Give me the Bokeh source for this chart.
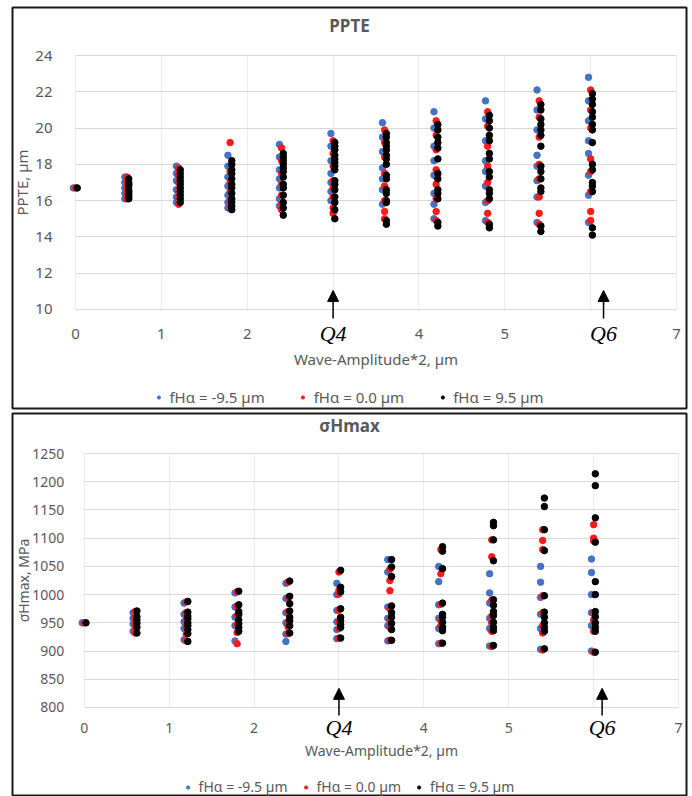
from bokeh.plotting import figure
from bokeh.models import (ColumnDataSource, Range1d, FixedTicker, Legend, LegendItem,
                          Label, Arrow, NormalHead)
from bokeh.layouts import column
from bokeh.transform import dodge
from bokeh.embed import file_html
from bokeh.resources import INLINE

FONT = "Noto Sans"
GRAY = "#595959"
C_BLUE = "#4472C4"
C_RED = "#FF1A1A"
C_BLACK = "#000000"

amp = [0.0, 0.6, 1.2, 1.8, 2.4, 3.0, 3.6, 4.2, 4.8, 5.4, 6.0]
x_ticks = [0, 1, 2, 3, 4, 5, 6, 7]
series_names = ["fH\u03b1 = -9.5 \u00b5m", "fH\u03b1 = 0.0 \u00b5m", "fH\u03b1 = 9.5 \u00b5m"]

# PPTE, um  (one list per amplitude column)
ppte_blue = [
    [16.7],
    [17.3, 17.0, 16.7, 16.4, 16.1],
    [17.9, 17.5, 17.1, 16.6, 16.2, 15.9],
    [18.5, 17.9, 17.3, 16.8, 16.3, 15.9, 15.6],
    [19.1, 18.4, 17.7, 17.2, 16.7, 16.1, 15.7],
    [19.7, 19.0, 18.2, 17.5, 17.0, 16.5, 16.0],
    [20.3, 19.5, 18.7, 17.8, 17.2, 16.6, 15.8],
    [20.9, 20.0, 19.0, 18.2, 17.4, 16.4, 15.8, 15.0],
    [21.5, 20.5, 19.3, 18.2, 17.6, 16.8, 15.9, 14.9],
    [22.1, 21.0, 19.9, 18.5, 17.9, 17.1, 16.2, 14.8],
    [22.8, 21.5, 20.4, 19.3, 18.6, 17.4, 16.3, 14.8],
]
ppte_red = [
    [16.7],
    [17.3, 17.1, 16.9, 16.7, 16.5, 16.3, 16.1],
    [17.8, 17.4, 17.0, 16.5, 16.1, 15.8],
    [19.2, 17.6, 17.0, 16.5, 16.0, 15.6],
    [18.9, 18.2, 17.5, 16.9, 16.3, 15.8, 15.5],
    [19.3, 18.6, 17.9, 17.1, 16.7, 16.2, 15.6, 15.3],
    [19.9, 19.2, 18.4, 17.5, 16.8, 16.0, 15.4, 15.0],
    [20.4, 19.6, 18.8, 17.7, 16.9, 16.1, 15.4, 14.9],
    [20.9, 20.1, 19.0, 17.9, 17.0, 16.0, 15.3, 14.8],
    [21.5, 20.6, 19.5, 18.0, 17.2, 16.2, 15.3, 14.7],
    [22.1, 21.0, 20.0, 18.3, 17.6, 16.5, 15.4, 14.9],
]
ppte_black = [
    [16.7],
    [17.2, 17.0, 16.9, 16.8, 16.6, 16.5, 16.4, 16.3, 16.2, 16.1],
    [17.7, 17.5, 17.3, 17.1, 16.9, 16.7, 16.5, 16.3, 16.1, 15.9],
    [18.2, 18.0, 17.7, 17.5, 17.2, 16.9, 16.7, 16.4, 16.1, 15.9, 15.7, 15.5],
    [18.6, 18.4, 18.2, 18.0, 17.8, 17.6, 17.3, 16.9, 16.7, 16.3, 15.9, 15.6, 15.2],
    [19.2, 19.0, 18.8, 18.5, 18.3, 18.1, 17.9, 17.7, 17.1, 16.9, 16.6, 16.2, 15.9, 15.5, 15.0],
    [19.7, 19.5, 19.2, 19.0, 18.8, 18.5, 18.3, 18.0, 17.4, 17.2, 16.6, 16.4, 16.0, 15.9, 14.9, 14.7],
    [20.2, 19.9, 19.5, 19.2, 18.9, 18.3, 17.5, 17.2, 16.6, 16.4, 16.1, 14.8, 14.6],
    [20.7, 20.4, 20.0, 19.6, 19.3, 18.6, 18.3, 17.6, 17.3, 16.6, 16.4, 16.1, 14.7, 14.5],
    [21.3, 21.0, 20.5, 20.2, 19.9, 19.6, 19.0, 17.9, 17.6, 17.2, 16.7, 16.5, 14.6, 14.3],
    [21.9, 21.6, 21.3, 20.9, 20.6, 20.2, 19.9, 19.2, 18.0, 17.7, 17.0, 16.8, 16.5, 14.5, 14.1],
]
ppte_ticks = [10, 12, 14, 16, 18, 20, 22, 24]

# sigma Hmax, MPa
shmax_blue = [
    [950],
    [968, 958, 948, 935],
    [985, 965, 952, 940, 920],
    [1003, 978, 960, 945, 918],
    [1020, 993, 968, 950, 930, 917],
    [1020, 1000, 972, 952, 938, 922],
    [1062, 1040, 978, 958, 945, 918],
    [1050, 1023, 982, 958, 940, 913],
    [1037, 1003, 985, 958, 940, 909],
    [1050, 1022, 995, 965, 940, 903],
    [1063, 1039, 1000, 968, 945, 900],
]
shmax_red = [
    [950],
    [970, 960, 950, 940, 932],
    [987, 968, 955, 943, 930, 918],
    [1005, 980, 963, 947, 933, 913],
    [1022, 995, 970, 952, 943, 931],
    [1040, 1008, 1001, 973, 953, 940, 923],
    [1045, 1025, 1007, 975, 955, 942, 919],
    [1080, 1037, 983, 955, 945, 914],
    [1097, 1067, 990, 962, 950, 935, 908],
    [1115, 1096, 1080, 998, 968, 945, 932, 902],
    [1124, 1100, 1095, 968, 955, 935, 898],
]
shmax_black = [
    [950],
    [971, 961, 955, 949, 942, 932],
    [988, 969, 962, 957, 950, 945, 938, 931, 917],
    [1006, 982, 970, 965, 955, 949, 942, 935],
    [1024, 997, 984, 971, 960, 954, 945, 932],
    [1043, 1013, 1005, 975, 960, 954, 947, 942, 923],
    [1062, 1049, 1032, 980, 968, 960, 949, 938, 919],
    [1085, 1077, 1046, 985, 965, 960, 951, 942, 936, 914],
    [1128, 1122, 1097, 1060, 991, 981, 970, 963, 951, 942, 936, 910],
    [1171, 1156, 1115, 1078, 998, 969, 960, 950, 942, 935, 904],
    [1214, 1193, 1136, 1093, 1023, 1000, 970, 961, 950, 942, 935, 898],
]
shmax_ticks = [800, 850, 900, 950, 1000, 1050, 1100, 1150, 1200, 1250]


def to_source(cols):
    xs = [a for a, c in zip(amp, cols) for _ in c]
    ys = [v for c in cols for v in c]
    return ColumnDataSource(dict(x=xs, y=ys))


def make_panel(title, ylabel, series, yticks, height, xr, yr, borders,
               title_y, ytick_standoff, ylab_standoff, xtick_standoff, xlab_standoff,
               arrow_y, qlabel_y, q6_x, font_px, legend_px, legend_spacing,
               legend_pad, legend_lh, legend_margin):
    p = figure(width=692, height=height, output_backend="svg", toolbar_location=None,
               x_range=Range1d(*xr), y_range=Range1d(*yr),
               min_border_left=borders[0], min_border_right=borders[1],
               min_border_top=borders[2], min_border_bottom=borders[3],
               outline_line_color="#1a1a1a", outline_line_width=2,
               background_fill_color="white", border_fill_color="white")

    for ax in (p.xaxis[0], p.yaxis[0]):
        ax.axis_line_color = None
        ax.major_tick_line_color = None
        ax.minor_tick_line_color = None
        ax.major_label_text_font = FONT
        ax.major_label_text_font_size = font_px
        ax.major_label_text_color = GRAY
        ax.axis_label_text_font = FONT
        ax.axis_label_text_font_size = font_px
        ax.axis_label_text_font_style = "normal"
        ax.axis_label_text_color = GRAY

    p.xaxis.ticker = FixedTicker(ticks=x_ticks)
    p.xaxis.major_label_overrides = {3: "", 6: ""}
    p.xaxis.axis_label = "Wave-Amplitude*2, \u00b5m"
    p.xaxis.fixed_location = yticks[0]
    p.xaxis.bounds = (x_ticks[0], x_ticks[-1])
    p.xaxis.major_label_standoff = xtick_standoff
    p.xaxis.axis_label_standoff = xlab_standoff

    p.yaxis.ticker = FixedTicker(ticks=yticks)
    p.yaxis.axis_label = ylabel
    p.yaxis.fixed_location = x_ticks[0]
    p.yaxis.bounds = (yticks[0], yticks[-1])
    p.yaxis.major_label_standoff = ytick_standoff
    p.yaxis.axis_label_standoff = ylab_standoff

    p.xgrid.ticker = FixedTicker(ticks=x_ticks)
    p.xgrid.grid_line_color = "#ececec"
    p.xgrid.cross_bounds = (yticks[0], yticks[-1])
    p.ygrid.ticker = FixedTicker(ticks=yticks)
    p.ygrid.grid_line_color = "#d9d9d9"
    p.ygrid.cross_bounds = (x_ticks[0], x_ticks[-1])

    renderers = []
    for cols, color, off in zip(series, (C_BLUE, C_RED, C_BLACK), (-0.025, 0.0, 0.02)):
        src = to_source(cols)
        r = p.scatter(x=dodge("x", off), y="y", source=src, size=6.5,
                      fill_color=color, line_color=color)
        renderers.append(r)

    p.add_layout(Label(x=(xr[0] + xr[1]) / 2, y=title_y, text=title, text_font=FONT,
                       text_font_size="17px", text_font_style="bold", text_color=GRAY,
                       text_align="center", text_baseline="middle"))

    for qx, txt in ((3.0, "Q4"), (q6_x, "Q6")):
        p.add_layout(Arrow(end=NormalHead(size=11, fill_color="black", line_color="black"),
                           x_start=qx, y_start=arrow_y[0], x_end=qx, y_end=arrow_y[1],
                           line_color="black", line_width=1.5))
        p.add_layout(Label(x=qx, y=qlabel_y, text=txt, text_font="Liberation Serif",
                           text_font_style="italic", text_font_size="22px",
                           text_color="black", text_align="center",
                           text_baseline="middle"))

    legend = Legend(items=[LegendItem(label=n, renderers=[r]) for n, r in zip(series_names, renderers)],
                    orientation="horizontal", location="bottom_center",
                    border_line_color=None, background_fill_alpha=0,
                    label_text_font=FONT, label_text_font_size=legend_px,
                    label_text_color=GRAY, glyph_width=8, glyph_height=8,
                    label_standoff=7, spacing=legend_spacing, padding=legend_pad,
                    margin=legend_margin, label_height=legend_lh)
    p.add_layout(legend)
    return p


top = make_panel("PPTE", "PPTE, \u00b5m", (ppte_blue, ppte_red, ppte_black), ppte_ticks,
                 410, (-0.734, 7.116), (4.542, 26.646), (12, 6, 7, 2),
                 25.654, 17, 0, 14, 6,
                 (9.5, 11.05), 8.675, 6.15, "15px", "15px", 34, 2, 16, 1)
bottom = make_panel("\u03c3Hmax", "\u03c3Hmax, MPa", (shmax_blue, shmax_red, shmax_black), shmax_ticks,
                    386, (-0.8457, 7.094), (642.3, 1320.9), (12, 4, 3, 0),
                    1299.6, 14, -4, 10, 4,
                    (786, 834), 764, 6.1, "14px", "14px", 14, 1, 14, 0)

layout = column(top, bottom, spacing=0)
open("out.html", "w").write(file_html(layout, INLINE))
